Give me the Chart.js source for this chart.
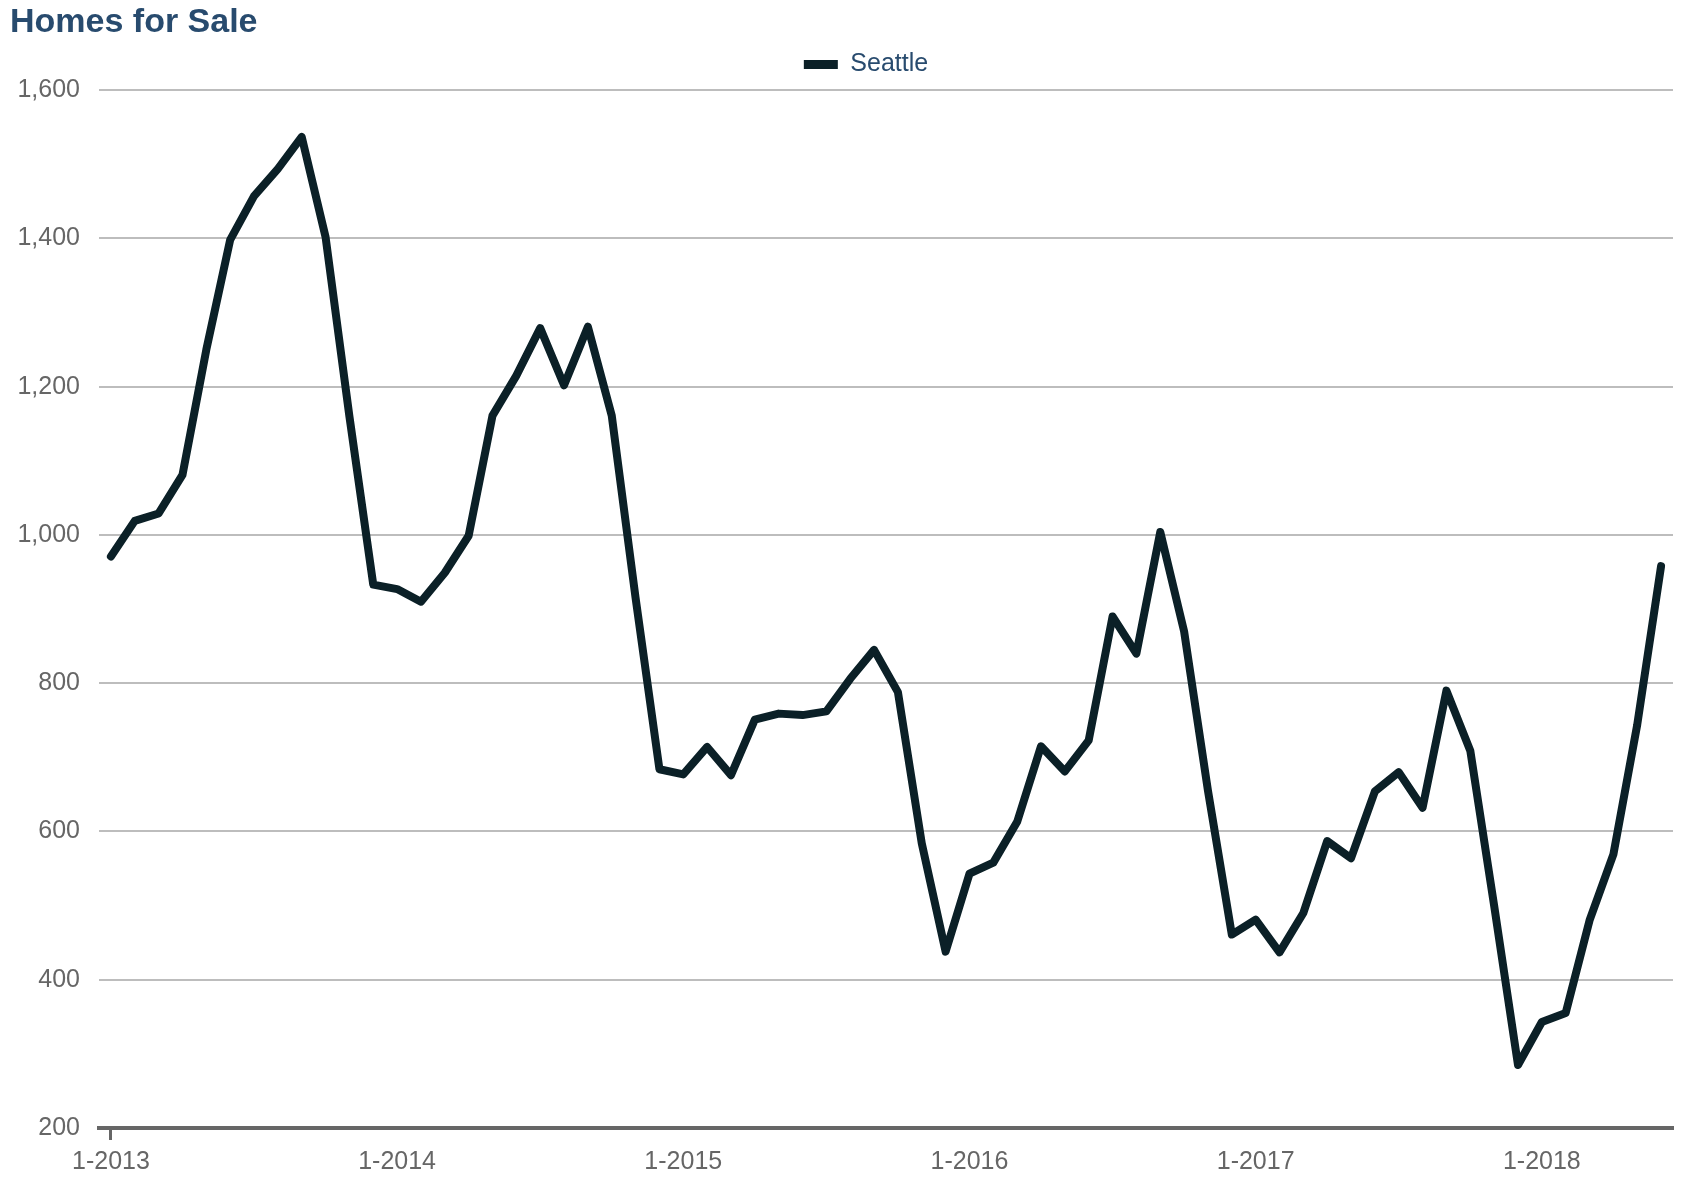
<!DOCTYPE html>
<html>
<head>
<meta charset="utf-8">
<script src="https://cdn.jsdelivr.net/npm/chart.js@4/dist/chart.umd.min.js"></script>
<style>
  html, body { margin: 0; padding: 0; background: #ffffff; }
  #wrap { width: 1688px; height: 1180px; position: relative; }
</style>
</head>
<body>
<div id="wrap"><canvas id="c" width="1688" height="1180"></canvas></div>
<script>
const categories = [
  '1-2013','2-2013','3-2013','4-2013','5-2013','6-2013','7-2013','8-2013','9-2013','10-2013','11-2013','12-2013',
  '1-2014','2-2014','3-2014','4-2014','5-2014','6-2014','7-2014','8-2014','9-2014','10-2014','11-2014','12-2014',
  '1-2015','2-2015','3-2015','4-2015','5-2015','6-2015','7-2015','8-2015','9-2015','10-2015','11-2015','12-2015',
  '1-2016','2-2016','3-2016','4-2016','5-2016','6-2016','7-2016','8-2016','9-2016','10-2016','11-2016','12-2016',
  '1-2017','2-2017','3-2017','4-2017','5-2017','6-2017','7-2017','8-2017','9-2017','10-2017','11-2017','12-2017',
  '1-2018','2-2018','3-2018','4-2018','5-2018','6-2018'
];

const seattle = [
  971, 1019, 1029, 1081, 1250, 1398, 1457, 1494, 1537, 1402, 1160, 933,
  927, 910, 949, 999, 1161, 1215, 1279, 1202, 1281, 1161, 915, 684,
  677, 714, 676, 751, 759, 757, 762, 806, 845, 788, 584, 438,
  543, 558, 613, 715, 681, 723, 890, 840, 1004, 870, 655, 461,
  481, 437, 490, 587, 564, 654, 680, 632, 790, 709, 500, 285,
  343, 355, 480, 569, 744, 958
];

const xTickLabels = ['1-2013', '1-2014', '1-2015', '1-2016', '1-2017', '1-2018'];
const yTickValues = [200, 400, 600, 800, 1000, 1200, 1400, 1600];

const FONT = 'Liberation Sans, Arial, Helvetica, sans-serif';
const LINE_COLOR = '#0b2027';
const TITLE_COLOR = '#284b6e';
const TICK_COLOR = '#666666';

const shiftLegend = {
  id: 'shiftLegend',
  afterLayout(chart) {
    const lg = chart.legend;
    if (lg) {
      lg.left += 49;
      lg.top -= 3.2;
      lg.bottom -= 3.2;
    }
  }
};

new Chart(document.getElementById('c'), {
  type: 'line',
  data: {
    labels: categories,
    datasets: [{
      label: 'Seattle',
      data: seattle,
      borderColor: LINE_COLOR,
      backgroundColor: LINE_COLOR,
      borderWidth: 8,
      pointRadius: 0,
      pointHoverRadius: 0,
      tension: 0,
      fill: false,
      borderCapStyle: 'round',
      borderJoinStyle: 'round'
    }]
  },
  options: {
    responsive: false,
    animation: false,
    devicePixelRatio: 1,
    layout: { padding: { left: 10, right: 15, top: 0, bottom: 0 } },
    plugins: {
      title: {
        display: true,
        text: 'Homes for Sale',
        align: 'start',
        color: TITLE_COLOR,
        font: { family: FONT, size: 34, weight: 'bold', lineHeight: 1.0 },
        padding: { top: 6, bottom: 0 }
      },
      legend: {
        display: true,
        position: 'top',
        align: 'center',
        labels: {
          boxWidth: 34,
          boxHeight: 9,
          padding: 15.2,
          color: TITLE_COLOR,
          font: { family: FONT, size: 25 },
          generateLabels: () => [{
            text: 'Seattle',
            fillStyle: LINE_COLOR,
            strokeStyle: LINE_COLOR,
            lineWidth: 0,
            hidden: false,
            datasetIndex: 0,
            fontColor: TITLE_COLOR
          }]
        }
      },
      tooltip: { enabled: false }
    },
    scales: {
      x: {
        type: 'category',
        offset: true,
        afterFit: (scale) => { scale.height = 52; },
        grid: {
          drawOnChartArea: false,
          drawTicks: true,
          tickLength: 12,
          tickWidth: 3,
          tickColor: (ctx) => (ctx.tick && xTickLabels.includes(categories[ctx.index])) ? TICK_COLOR : 'rgba(0,0,0,0)'
        },
        border: { display: true, color: TICK_COLOR, width: 4 },
        ticks: {
          autoSkip: false,
          maxRotation: 0,
          minRotation: 0,
          padding: 7.6,
          color: TICK_COLOR,
          font: { family: FONT, size: 25 },
          callback: (value, index) => xTickLabels.includes(categories[index]) ? categories[index] : null
        }
      },
      y: {
        min: yTickValues[0],
        max: yTickValues[yTickValues.length - 1],
        afterBuildTicks: (scale) => { scale.ticks = yTickValues.map(v => ({ value: v })); },
        afterFit: (scale) => { scale.width = 89; },
        grid: { color: '#bdbdbd', lineWidth: 2, drawTicks: false },
        border: { display: false },
        ticks: {
          padding: 19,
          color: TICK_COLOR,
          font: { family: FONT, size: 25 },
          callback: (v) => v.toLocaleString('en-US')
        }
      }
    }
  },
  plugins: [shiftLegend]
});
</script>
</body>
</html>
